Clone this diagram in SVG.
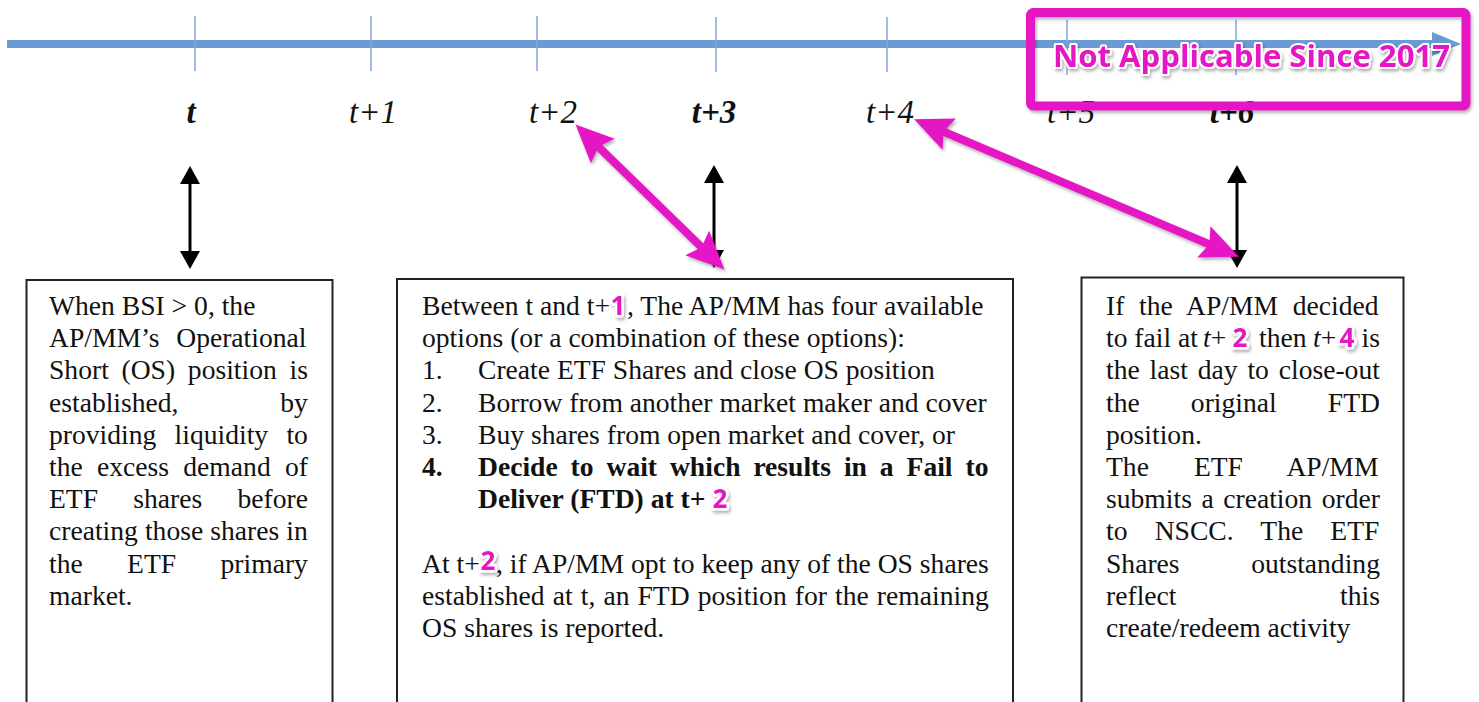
<svg xmlns="http://www.w3.org/2000/svg" width="1479" height="702" viewBox="0 0 1479 702">
<style>
.tl{font-family:"Liberation Serif",serif;font-size:33px;font-style:italic;fill:#111;text-anchor:middle}
.tlb{font-weight:bold}
.tick{stroke:#7ea6da;stroke-width:1.5}
.box{fill:#fff;stroke:#222;stroke-width:2}
.body{font-family:"Liberation Serif",serif;font-size:27.6px;fill:#111}
.bold{font-weight:bold}
.it{font-style:italic}
.badge{font-family:"Open Sans",sans-serif;font-weight:bold;font-size:26px;fill:#e513c3;stroke:#fff;stroke-width:5;stroke-linejoin:round;paint-order:stroke;text-anchor:middle;filter:url(#sh)}
.blk{stroke:#000;stroke-width:3;marker-start:url(#bh);marker-end:url(#bh)}
.pink{stroke:#e513c3;stroke-width:8;marker-start:url(#ph);marker-end:url(#ph)}
</style>
<defs>
<filter id="sh" x="-30%" y="-30%" width="160%" height="160%">
<feDropShadow dx="1.5" dy="2.5" stdDeviation="1.5" flood-color="#000" flood-opacity="0.3"/>
</filter>
<marker id="bh" viewBox="0 0 18 20" markerWidth="18" markerHeight="20" refX="14" refY="10" orient="auto-start-reverse" markerUnits="userSpaceOnUse">
<path d="M0,0 L18,10 L0,20 Z" fill="#000"/>
</marker>
<marker id="ph" viewBox="0 0 38 36" markerWidth="38" markerHeight="36" refX="16" refY="18" orient="auto-start-reverse" markerUnits="userSpaceOnUse" overflow="visible">
<path d="M0,1 L38,18 L0,35 L6,18 Z" fill="#e513c3"/>
</marker>
</defs>
<rect width="1479" height="702" fill="#fff"/>

<g id="timeline">
<line x1="7" y1="44" x2="1436" y2="44" stroke="#6b9bd5" stroke-width="8"/>
<polygon points="1432,32 1461,44 1432,56" fill="#6b9bd5"/>
<line class="tick" x1="195" y1="16" x2="195" y2="71"/>
<line class="tick" x1="371" y1="16" x2="371" y2="71"/>
<line class="tick" x1="537" y1="16" x2="537" y2="71"/>
<line class="tick" x1="716" y1="17" x2="716" y2="72"/>
<line class="tick" x1="887" y1="17" x2="887" y2="72"/>
<line class="tick" x1="1067" y1="20" x2="1067" y2="75"/>
<line class="tick" x1="1236" y1="20" x2="1236" y2="75"/>
<text class="tl tlb" x="191" y="123">t</text>
<text class="tl" x="373" y="123">t+1</text>
<text class="tl" x="553" y="123">t+2</text>
<text class="tl tlb" x="714" y="123">t+3</text>
<text class="tl" x="890" y="123">t+4</text>
<text class="tl" x="1071" y="123">t+5</text>
<text class="tl tlb" x="1232" y="123">t+6</text>
</g>

<g id="box-left">
<rect class="box" x="26.5" y="280" width="306" height="440"/>
<text class="body" x="49" y="315">When BSI &gt; 0, the</text>
<text class="body" x="49" y="347.2" word-spacing="9.9">AP/MM’s Operational</text>
<text class="body" x="49" y="379.4" word-spacing="5.8">Short (OS) position is</text>
<text class="body" x="49" y="411.6" word-spacing="94.9">established, by</text>
<text class="body" x="49" y="443.8" word-spacing="11.4">providing liquidity to</text>
<text class="body" x="49" y="476" word-spacing="7.4">the excess demand of</text>
<text class="body" x="49" y="508.2" word-spacing="28.3">ETF shares before</text>
<text class="body" x="49" y="540.4" word-spacing="0.2">creating those shares in</text>
<text class="body" x="49" y="572.6" word-spacing="37.5">the ETF primary</text>
<text class="body" x="49" y="604.8">market.</text>
</g>

<g id="box-middle">
<rect class="box" x="397" y="279" width="616" height="440"/>
<text class="body" x="422" y="315">Between t and t+</text>
<text class="body" x="627" y="315">, The AP/MM has four available</text>
<text class="body" x="422" y="347.2">options (or a combination of these options):</text>
<text class="body" x="422" y="379.4">1.</text>
<text class="body" x="478" y="379.4">Create ETF Shares and close OS position</text>
<text class="body" x="422" y="411.6">2.</text>
<text class="body" x="478" y="411.6">Borrow from another market maker and cover</text>
<text class="body" x="422" y="443.8">3.</text>
<text class="body" x="478" y="443.8">Buy shares from open market and cover, or</text>
<text class="body bold" x="422" y="476">4.</text>
<text class="body bold" x="478" y="476" word-spacing="6">Decide to wait which results in a Fail to</text>
<text class="body bold" x="478" y="508.2">Deliver (FTD) at t+</text>
<text class="body" x="422" y="572.6">At t+</text>
<text class="body" x="496" y="572.6">, if AP/MM opt to keep any of the OS shares</text>
<text class="body" x="422" y="604.8" word-spacing="1.2">established at t, an FTD position for the remaining</text>
<text class="body" x="422" y="637">OS shares is reported.</text>
<text class="badge" x="618" y="315">1</text>
<text class="badge" x="720" y="508.2">2</text>
<text class="badge" x="488" y="570">2</text>
</g>

<g id="box-right">
<rect class="box" x="1081.5" y="277.5" width="322" height="440"/>
<text class="body" x="1106" y="315" word-spacing="7.8">If the AP/MM decided</text>
<text class="body" x="1106" y="347.2">to fail at</text>
<text class="body" x="1203" y="347.2"><tspan class="it">t</tspan>+</text>
<text class="body" x="1259" y="347.2">then</text>
<text class="body" x="1313" y="347.2"><tspan class="it">t</tspan>+</text>
<text class="body" x="1380" y="347.2" text-anchor="end">is</text>
<text class="body" x="1106" y="379.4" word-spacing="2.95">the last day to close-out</text>
<text class="body" x="1106" y="411.6" word-spacing="44.25">the original FTD</text>
<text class="body" x="1106" y="443.8">position.</text>
<text class="body" x="1106" y="476" word-spacing="38.1">The ETF AP/MM</text>
<text class="body" x="1106" y="508.2" word-spacing="2.67">submits a creation order</text>
<text class="body" x="1106" y="540.4" word-spacing="20.27">to NSCC. The ETF</text>
<text class="body" x="1106" y="572.6" word-spacing="64.7">Shares outstanding</text>
<text class="body" x="1106" y="604.8" word-spacing="156.7">reflect this</text>
<text class="body" x="1106" y="637">create/redeem activity</text>
<text class="badge" x="1240" y="347.2">2</text>
<text class="badge" x="1347" y="347.2">4</text>
</g>

<g id="connectors">
<line class="blk" x1="190" y1="170" x2="190" y2="265"/>
<line class="blk" x1="714" y1="169" x2="714" y2="264"/>
<line class="blk" x1="1237" y1="169" x2="1237" y2="264"/>
<g filter="url(#sh)">
<line class="pink" x1="591.3" y1="139.9" x2="708.7" y2="254.1"/>
</g>
<g filter="url(#sh)">
<line class="pink" x1="934.4" y1="127.8" x2="1218.6" y2="248.2"/>
</g>
</g>

<g id="not-applicable" filter="url(#sh)">
<rect x="1030.5" y="12.5" width="435.5" height="93.5" rx="3" fill="none" stroke="#e513c3" stroke-width="9"/>
<text x="1053" y="67" textLength="397" lengthAdjust="spacingAndGlyphs" font-family="Open Sans, sans-serif" font-weight="bold" font-size="31" fill="#e513c3" stroke="#fff" stroke-width="4" stroke-linejoin="round" paint-order="stroke">Not Applicable Since 2017</text>
</g>
</svg>
